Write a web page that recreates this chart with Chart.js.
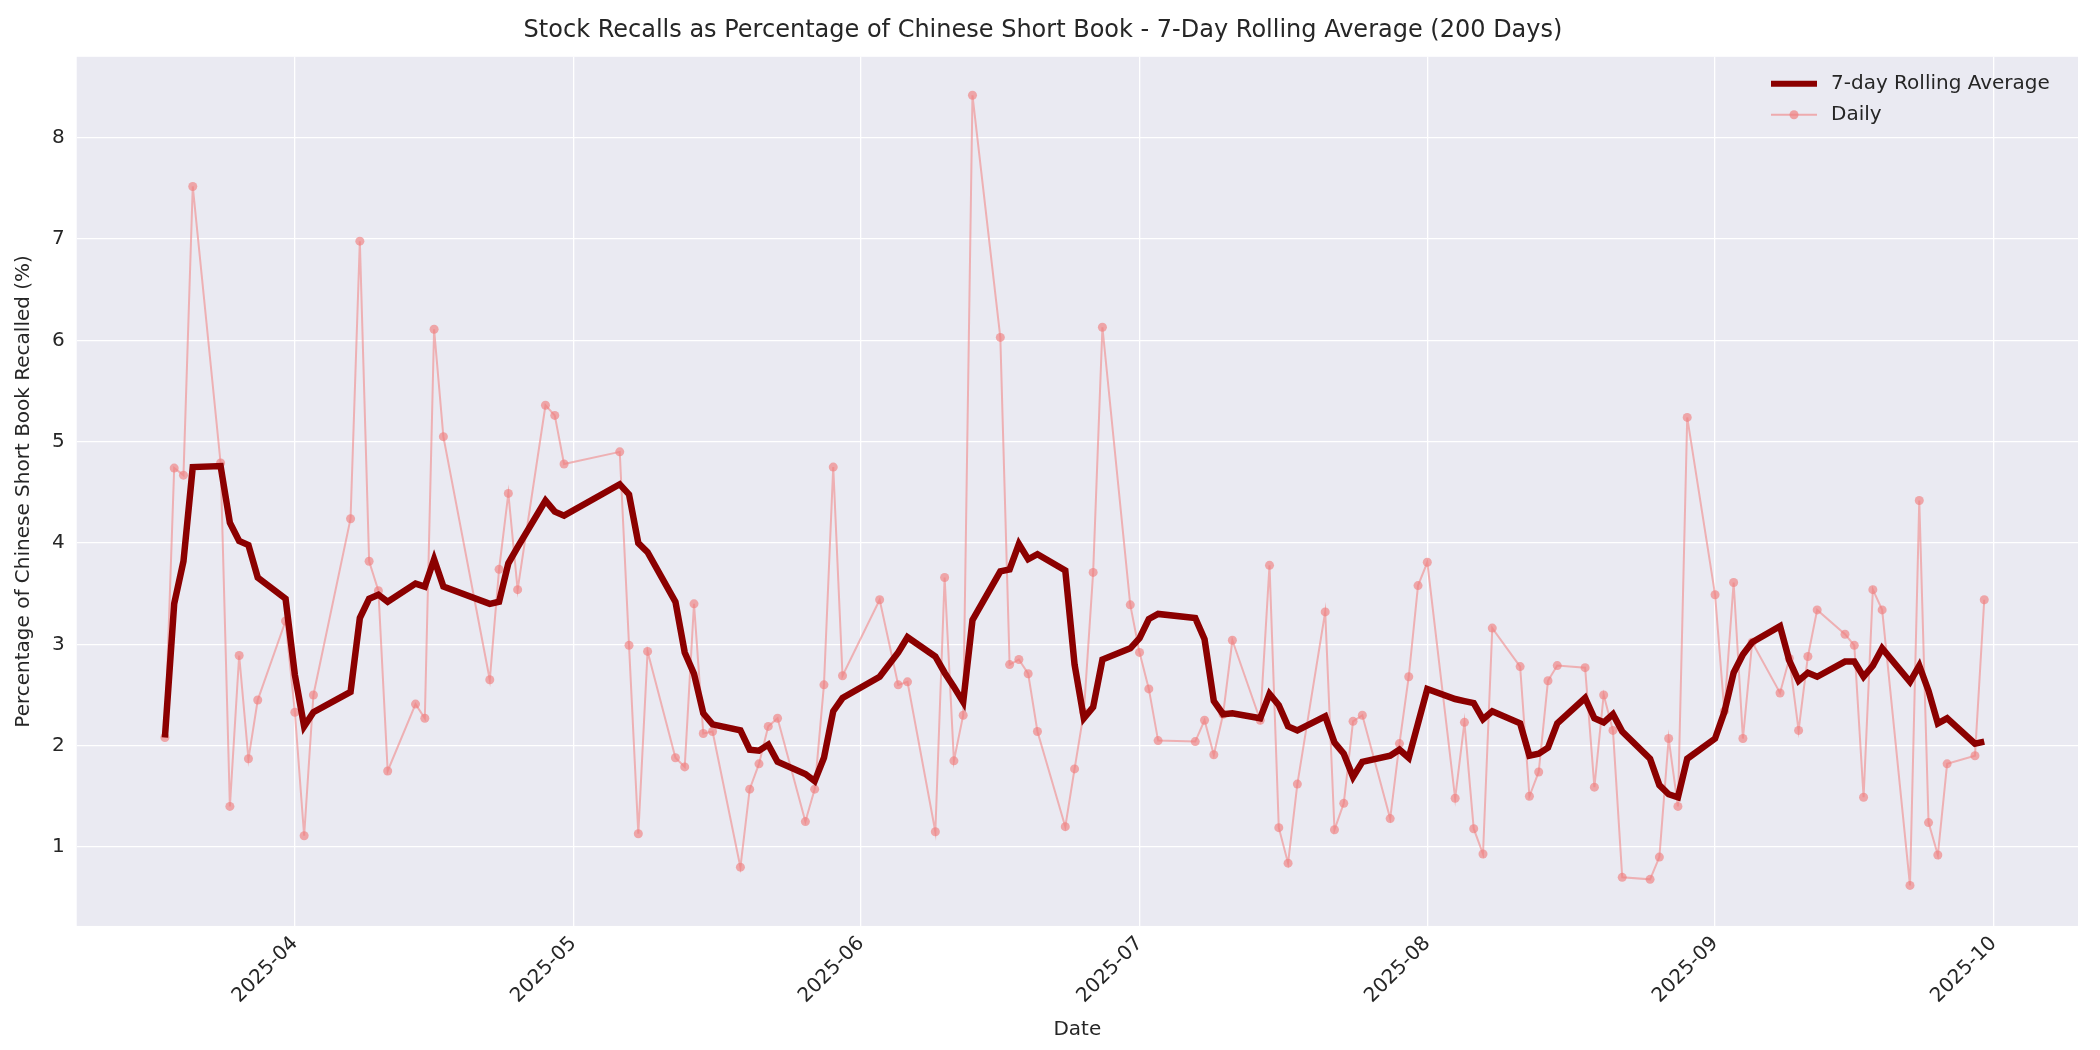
<!DOCTYPE html>
<html><head><meta charset="utf-8">
<script src="https://cdn.jsdelivr.net/npm/chart.js@4.4.1/dist/chart.umd.min.js"></script>
<style>body{margin:0;background:#fff}canvas{display:block}</style>
</head><body>
<canvas id="c" width="2100" height="1050"></canvas>
<script>
const dates = [
 "2025-03-18","2025-03-19","2025-03-20","2025-03-21","2025-03-24","2025-03-25","2025-03-26","2025-03-27","2025-03-28","2025-03-31",
 "2025-04-01","2025-04-02","2025-04-03","2025-04-07","2025-04-08","2025-04-09","2025-04-10","2025-04-11","2025-04-14","2025-04-15","2025-04-16","2025-04-17","2025-04-22","2025-04-23","2025-04-24","2025-04-25","2025-04-28","2025-04-29","2025-04-30",
 "2025-05-06","2025-05-07","2025-05-08","2025-05-09","2025-05-12","2025-05-13","2025-05-14","2025-05-15","2025-05-16","2025-05-19","2025-05-20","2025-05-21","2025-05-22","2025-05-23","2025-05-26","2025-05-27","2025-05-28","2025-05-29","2025-05-30",
 "2025-06-03","2025-06-05","2025-06-06","2025-06-09","2025-06-10","2025-06-11","2025-06-12","2025-06-13","2025-06-16","2025-06-17","2025-06-18","2025-06-19","2025-06-20","2025-06-23","2025-06-24","2025-06-25","2025-06-26","2025-06-27","2025-06-30",
 "2025-07-01","2025-07-02","2025-07-03","2025-07-07","2025-07-08","2025-07-09","2025-07-10","2025-07-11","2025-07-14","2025-07-15","2025-07-16","2025-07-17","2025-07-18","2025-07-21","2025-07-22","2025-07-23","2025-07-24","2025-07-25","2025-07-28","2025-07-29","2025-07-30","2025-07-31",
 "2025-08-01","2025-08-04","2025-08-05","2025-08-06","2025-08-07","2025-08-08","2025-08-11","2025-08-12","2025-08-13","2025-08-14","2025-08-15","2025-08-18","2025-08-19","2025-08-20","2025-08-21","2025-08-22","2025-08-25","2025-08-26","2025-08-27","2025-08-28","2025-08-29",
 "2025-09-01","2025-09-02","2025-09-03","2025-09-04","2025-09-05","2025-09-08","2025-09-09","2025-09-10","2025-09-11","2025-09-12","2025-09-15","2025-09-16","2025-09-17","2025-09-18","2025-09-19","2025-09-22","2025-09-23","2025-09-24","2025-09-25","2025-09-26","2025-09-29","2025-09-30"
];
const daily = [
 2.08,4.74,4.67,7.52,4.79,1.40,2.89,1.87,2.45,3.23,
 2.33,1.11,2.50,4.24,6.98,3.82,3.53,1.75,2.41,2.27,6.11,5.05,2.65,3.74,4.49,3.54,5.36,5.26,4.78,
 4.90,2.99,1.13,2.93,1.88,1.79,3.40,2.12,2.14,0.80,1.57,1.82,2.19,2.27,1.25,1.57,2.60,4.75,2.69,
 3.44,2.60,2.63,1.15,3.66,1.85,2.30,8.42,6.03,2.80,2.85,2.71,2.14,1.20,1.77,2.33,3.71,6.13,3.39,
 2.92,2.56,2.05,2.04,2.25,1.91,2.31,3.04,2.25,3.78,1.19,0.84,1.62,3.32,1.17,1.43,2.24,2.30,1.28,2.02,2.68,3.58,
 3.81,1.48,2.23,1.18,0.93,3.16,2.78,1.50,1.74,2.64,2.79,2.77,1.59,2.50,2.15,0.70,0.68,0.90,2.07,1.40,5.24,
 3.49,2.34,3.61,2.07,3.02,2.52,2.86,2.15,2.88,3.34,3.10,2.99,1.49,3.54,3.34,0.62,4.42,1.24,0.92,1.82,1.90,3.44
];
const rolling = [
 2.08,3.40,3.82,4.75,4.76,4.20,4.02,3.98,3.66,3.45,
 2.70,2.19,2.33,2.53,3.26,3.45,3.49,3.42,3.60,3.57,3.84,3.57,3.40,3.42,3.80,3.96,4.42,4.31,4.27,
 4.58,4.48,4.00,3.91,3.42,2.92,2.71,2.32,2.21,2.15,1.96,1.95,2.01,1.84,1.72,1.65,1.88,2.34,2.47,
 2.68,2.92,3.07,2.88,2.72,2.58,2.43,3.24,3.72,3.74,3.99,3.84,3.89,3.73,2.80,2.27,2.38,2.85,2.96,
 3.06,3.25,3.30,3.26,3.05,2.44,2.31,2.32,2.27,2.51,2.40,2.19,2.15,2.29,2.03,1.92,1.69,1.84,1.90,1.96,1.88,2.22,
 2.56,2.46,2.44,2.42,2.26,2.34,2.22,1.90,1.92,1.98,2.22,2.47,2.27,2.23,2.31,2.14,1.87,1.61,1.52,1.49,1.87,
 2.07,2.33,2.72,2.90,3.02,3.18,2.84,2.64,2.72,2.68,2.83,2.83,2.68,2.79,2.96,2.63,2.79,2.54,2.22,2.27,2.02,2.04
];
const monthTicks = ["2025-04-01","2025-05-01","2025-06-01","2025-07-01","2025-08-01","2025-09-01","2025-10-01"];
const yTicks = [1,2,3,4,5,6,7,8];

const dayNum = s => Date.parse(s + "T00:00:00Z") / 86400000;
const fmt = v => { const d = new Date(v * 86400000); return d.getUTCFullYear() + "-" + String(d.getUTCMonth()+1).padStart(2,"0"); };
const FONT = "'DejaVu Sans', sans-serif";
Chart.defaults.font.family = FONT;
Chart.defaults.color = "#262626";

const bgPlugin = {
  id: "bg",
  beforeDraw(c) {
    const a = c.chartArea, g = c.ctx;
    g.save(); g.fillStyle = "#EAEAF2"; g.fillRect(a.left, a.top, a.right - a.left, a.bottom - a.top); g.restore();
  },
  afterDraw(c) {
    const a = c.chartArea, g = c.ctx;
    g.save();
    g.font = "20px " + FONT; g.fillStyle = "#262626"; g.textBaseline = "middle";
    const x0 = a.right - 307, y1 = a.top + 27, y2 = a.top + 58;
    g.strokeStyle = "#8B0000"; g.lineWidth = 6; g.beginPath(); g.moveTo(x0, y1); g.lineTo(x0 + 46, y1); g.stroke();
    g.fillText("7-day Rolling Average", x0 + 60, y1);
    g.strokeStyle = "rgba(240,128,128,0.6)"; g.lineWidth = 2; g.beginPath(); g.moveTo(x0, y2); g.lineTo(x0 + 46, y2); g.stroke();
    g.fillStyle = "rgba(240,128,128,0.7)"; g.beginPath(); g.arc(x0 + 23, y2, 4.5, 0, Math.PI * 2); g.fill();
    g.fillStyle = "#262626"; g.fillText("Daily", x0 + 60, y2);
    g.restore();
  }
};

new Chart(document.getElementById("c"), {
  type: "line",
  data: {
    datasets: [
      { label: "7-day Rolling Average", data: dates.map((d, i) => ({ x: dayNum(d), y: rolling[i] })),
        borderColor: "#8B0000", borderWidth: 6.5, pointRadius: 0, tension: 0, order: 1 },
      { label: "Daily", data: dates.map((d, i) => ({ x: dayNum(d), y: daily[i] })),
        borderColor: "rgba(240,128,128,0.55)", backgroundColor: "rgba(240,128,128,0.65)", borderWidth: 2,
        pointRadius: 4.5, pointBorderWidth: 0, tension: 0, order: 2 }
    ]
  },
  options: {
    responsive: false, animation: false, devicePixelRatio: 1,
    layout: { padding: { left: 8, right: 22, top: 6, bottom: 4 } },
    plugins: {
      legend: { display: false }, tooltip: { enabled: false },
      title: { display: true, text: "Stock Recalls as Percentage of Chinese Short Book - 7-Day Rolling Average (200 Days)",
        font: { size: 24, weight: "normal" }, color: "#262626", padding: { top: 10, bottom: 12 } }
    },
    scales: {
      x: {
        type: "linear", min: dayNum("2025-03-08") + 0.5, max: dayNum("2025-10-10") + 0.1,
        afterBuildTicks: ax => { ax.ticks = monthTicks.map(m => ({ value: dayNum(m) })); },
        ticks: { callback: v => fmt(v), maxRotation: 45, minRotation: 45, autoSkip: false, font: { size: 20 }, color: "#262626", padding: 6 },
        grid: { color: "#ffffff", lineWidth: 1.3, drawTicks: false },
        border: { display: false },
        title: { display: true, text: "Date", font: { size: 20 }, color: "#262626", padding: { top: 4 } }
      },
      y: {
        min: 0.22, max: 8.8,
        afterBuildTicks: ax => { ax.ticks = yTicks.map(v => ({ value: v })); },
        ticks: { font: { size: 20 }, color: "#262626", padding: 12 },
        grid: { color: "#ffffff", lineWidth: 1.3, drawTicks: false },
        border: { display: false },
        title: { display: true, text: "Percentage of Chinese Short Book Recalled (%)", font: { size: 20 }, color: "#262626" }
      }
    }
  },
  plugins: [bgPlugin]
});
</script>
</body></html>
